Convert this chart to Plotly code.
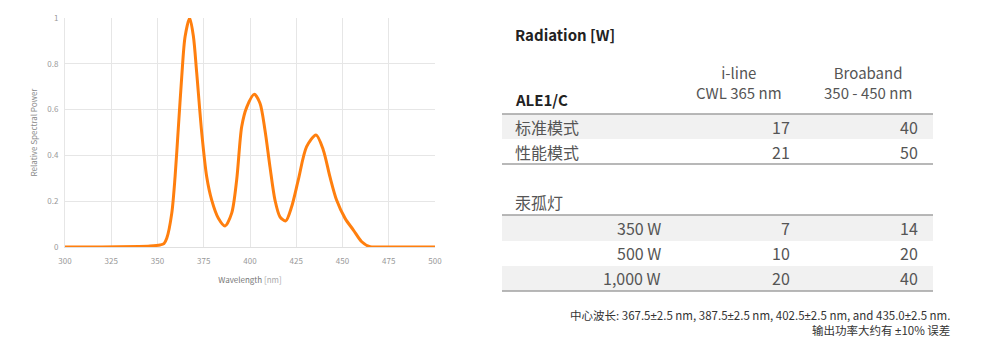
import plotly.graph_objects as go

# ---------------- data ----------------
wavelength_nm = [300, 320, 340, 346, 351.4, 353.5, 355, 357.7, 359.5, 361.3, 363.1, 364.9,
                 367.4, 369.4, 371.2, 373.9, 376.6, 379.3, 382.9, 386.5, 390.1, 392.8,
                 395.5, 398.2, 402.3, 405.4, 408.1, 410.8, 413.5, 416.2, 419.3, 422.5,
                 426.1, 430.6, 435.7, 439.6, 443.2, 446.8, 451.4, 455.9, 460.4, 464.9,
                 470, 500]
rel_power = [0, 0, 0.002, 0.004, 0.009, 0.015, 0.038, 0.147, 0.307, 0.525, 0.744, 0.918,
             1.0, 0.92, 0.76, 0.5, 0.307, 0.205, 0.126, 0.092, 0.148, 0.293,
             0.525, 0.61, 0.667, 0.628, 0.51, 0.35, 0.205, 0.132, 0.114, 0.176,
             0.293, 0.438, 0.489, 0.424, 0.307, 0.205, 0.125, 0.074, 0.023, 0.001,
             0, 0]

x_ticks = [300, 325, 350, 375, 400, 425, 450, 475, 500]
y_ticks = [0, 0.2, 0.4, 0.6, 0.8, 1]
y_tick_labels = ["0", "0.2", "0.4", "0.6", "0.8", "1"]

table_title = "Radiation [W]"
model_name = "ALE1/C"
col_headers = ["i-line<br>CWL 365 nm", "Broaband<br>350 - 450 nm"]
mode_rows = ["标准模式", "性能模式"]
mode_iline = [17, 21]
mode_broad = [40, 50]
lamp_group = "汞孤灯"
lamp_rows = ["350 W", "500 W", "1,000 W"]
lamp_iline = [7, 10, 20]
lamp_broad = [14, 20, 40]
footnote1 = "中心波长: 367.5±2.5 nm, 387.5±2.5 nm, 402.5±2.5 nm, and 435.0±2.5 nm."
footnote2 = "输出功率大约有 ±10% 误差"

# ---------------- layout helpers (pixel -> paper) ----------------
W, H = 1004, 355
def px(x):
    return x / W
def py(y):
    return 1 - y / H

FONT = "Noto Sans CJK SC"
PM = "<span style='font-family:Liberation Sans Narrow, Liberation Sans'>±</span>"

fig = go.Figure()
fig.add_trace(go.Scatter(
    x=wavelength_nm, y=rel_power, mode="lines",
    line=dict(color="#FF7F0E", width=3, shape="spline", smoothing=0.8),
    cliponaxis=False, hoverinfo="x+y", showlegend=False,
))

fig.update_layout(
    width=W, height=H,
    margin=dict(l=0, r=0, t=0, b=0),
    paper_bgcolor="white", plot_bgcolor="white",
    font=dict(family=FONT, color="#444"),
    xaxis=dict(
        domain=[px(65), px(435)], range=[300, 500],
        tickvals=x_ticks, ticks="", showgrid=True, gridcolor="#e6e6e6", gridwidth=1,
        zeroline=False, showline=True, linecolor="#e0e0e0", mirror=False,
        tickfont=dict(size=8, color="#999"), automargin=False, ticklabelstandoff=6,
        title=dict(text="<span style='color:#777'>Wavelength</span> <span style='color:#aaa'>[nm]</span>",
                   font=dict(size=8), standoff=12),
    ),
    yaxis=dict(
        domain=[py(247), py(18)], range=[0, 1],
        tickvals=y_ticks, ticktext=y_tick_labels, ticks="", showgrid=True,
        gridcolor="#e6e6e6", gridwidth=1, zeroline=False, showline=True, linecolor="#e6e6e6",
        tickfont=dict(size=8, color="#999"), automargin=False, ticklabelstandoff=4,
        title=dict(text="Relative Spectral Power", font=dict(size=8, color="#888"), standoff=8),
    ),
)

# Table shapes
TL, TR = 502, 933
shapes = []
def band(y0, y1):
    shapes.append(dict(type="rect", xref="paper", yref="paper", x0=px(TL), x1=px(TR),
                       y0=py(y1), y1=py(y0), fillcolor="#f1f1f1", line=dict(width=0), layer="below"))
def hline(y):
    shapes.append(dict(type="line", xref="paper", yref="paper", x0=px(TL), x1=px(TR),
                       y0=py(y), y1=py(y), line=dict(color="#a0a0a0", width=1.5)))

mode_y = [127, 152]
lamp_y = [228, 253, 278]
band(114, 139)
band(215, 241)
band(266, 291)
hline(114)
hline(164)
hline(215)
hline(291)
fig.update_layout(shapes=shapes)

ann = []
def text(x, y, s, anchor="left", size=16, color="#444", bold=False):
    if bold:
        s = "<b>" + s + "</b>"
    ann.append(dict(x=px(x), y=py(y), xref="paper", yref="paper", text=s, showarrow=False,
                    xanchor=anchor, yanchor="middle", font=dict(size=size, color=color, family=FONT),
                    align="center" if anchor == "center" else anchor))

text(513, 35, table_title, size=15, color="#222", bold=True)
text(513, 99, model_name, size=15, color="#222", bold=True)
text(739, 82, col_headers[0], anchor="center", size=15, color="#555")
text(868, 82, col_headers[1], anchor="center", size=15, color="#555")
for i, name in enumerate(mode_rows):
    text(513, mode_y[i], name, size=16, color="#555")
    text(792, mode_y[i], str(mode_iline[i]), anchor="right", size=16, color="#555")
    text(920, mode_y[i], str(mode_broad[i]), anchor="right", size=16, color="#555")
text(513, 202, lamp_group, size=16, color="#555")
for i, name in enumerate(lamp_rows):
    text(663, lamp_y[i], name, anchor="right", size=16, color="#555")
    text(792, lamp_y[i], str(lamp_iline[i]), anchor="right", size=16, color="#555")
    text(920, lamp_y[i], str(lamp_broad[i]), anchor="right", size=16, color="#555")
text(952, 315, footnote1.replace("±", PM), anchor="right", size=11.5, color="#333")
text(952, 330, footnote2.replace("±", PM), anchor="right", size=11.5, color="#333")
fig.update_layout(annotations=ann)

fig.write_html("out.html")
